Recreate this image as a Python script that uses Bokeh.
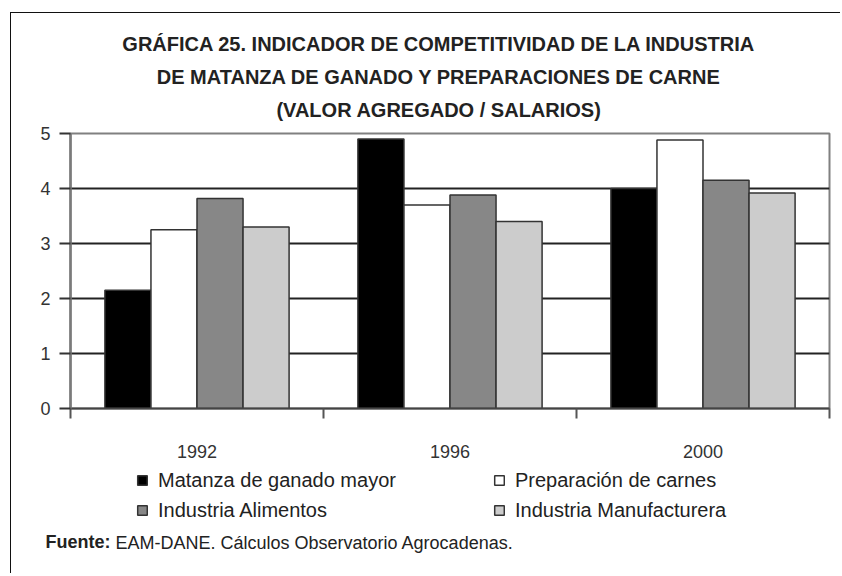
from bokeh.plotting import figure
from bokeh.layouts import column
from bokeh.models import (Range1d, FixedTicker, LinearAxis, Label, Legend, LegendItem, Grid)
from bokeh.embed import file_html
from bokeh.resources import INLINE

# ---- data ----
years = ["1992", "1996", "2000"]
series = ["Matanza de ganado mayor", "Preparación de carnes",
          "Industria Alimentos", "Industria Manufacturera"]
matanza = [2.15, 4.90, 4.00]
preparacion = [3.25, 3.70, 4.88]
alimentos = [3.82, 3.88, 4.15]
manufacturera = [3.30, 3.40, 3.92]
y_ticks = [0, 1, 2, 3, 4, 5]
title_lines = ["GRÁFICA 25. INDICADOR DE COMPETITIVIDAD DE LA INDUSTRIA",
               "DE MATANZA DE GANADO Y PREPARACIONES DE CARNE",
               "(VALOR AGREGADO / SALARIOS)"]
source_bold = "Fuente:"
source_text = "EAM-DANE. Cálculos Observatorio Agrocadenas."

# ---- style ----
colors = ["#000000", "#ffffff", "#878787", "#cccccc"]
FONT = "Liberation Sans"
TXT = "#222222"
OX, OY = 11, 13          # canvas origin on the page (margin + border)
FL = 70                  # page x of the (aligned) frames' left edge
W = 829
H0, H1, H2 = 110, 343, 107
values = [matanza, preparacion, alimentos, manufacturera]
centers = [i + 0.5 for i in range(len(years))]
bounds = [float(i) for i in range(len(years) + 1)]
bw = 0.182


def blank_fig(h, **kw):
    f = figure(width=W, height=h, output_backend="svg", toolbar_location=None,
               x_range=Range1d(0, len(years)), y_range=Range1d(0, 1),
               x_axis_type=None, y_axis_type=None, min_border=0, **kw)
    f.outline_line_color = None
    f.grid.visible = False
    f.background_fill_color = "white"
    f.border_fill_color = "white"
    return f


# ---------- title block ----------
p0 = blank_fig(H0)
for line, cy in zip(title_lines, [43, 76, 109]):
    p0.add_layout(Label(x=438.5 - FL, y=(OY + H0) - cy, x_units="screen", y_units="screen",
                        text=line, text_align="center", text_baseline="middle",
                        text_font=FONT, text_font_size="20px", text_font_style="bold",
                        text_color=TXT))

# ---------- main chart ----------
top0 = OY + H0
p = figure(width=W, height=H1, output_backend="svg", toolbar_location=None,
           x_range=Range1d(0, len(years)), y_range=Range1d(0, 5),
           x_axis_type=None, y_axis_type=None,
           min_border_left=FL - OX, min_border_right=W - (829 - OX),
           min_border_top=133 - top0, min_border_bottom=(top0 + H1) - 408)
p.outline_line_color = "#808080"
p.outline_line_width = 2
p.background_fill_color = "white"
p.border_fill_color = "white"

yaxis = LinearAxis(ticker=FixedTicker(ticks=y_ticks))
yaxis.axis_line_color = "#7a7a7a"
yaxis.axis_line_width = 2.5
yaxis.major_tick_line_color = "#333333"
yaxis.major_tick_line_width = 2
yaxis.major_tick_out = 11
yaxis.major_tick_in = 0
yaxis.minor_tick_line_color = None
yaxis.major_label_standoff = 9
yaxis.major_label_text_font = FONT
yaxis.major_label_text_font_size = "18px"
yaxis.major_label_text_color = "#333333"
p.add_layout(yaxis, "left")

grid = Grid(dimension=1, ticker=yaxis.ticker)
grid.grid_line_color = "#222222"
grid.grid_line_width = 2
p.add_layout(grid)

xaxis = LinearAxis(ticker=FixedTicker(ticks=centers, minor_ticks=bounds))
xaxis.major_label_overrides = {c: y for c, y in zip(centers, years)}
xaxis.major_tick_line_color = None
xaxis.major_tick_out = 0
xaxis.major_tick_in = 0
xaxis.minor_tick_out = 10
xaxis.minor_tick_in = 0
xaxis.minor_tick_line_color = "#555555"
xaxis.minor_tick_line_width = 2
xaxis.axis_line_color = "#444444"
xaxis.axis_line_width = 2
xaxis.major_label_standoff = 26
xaxis.major_label_text_font = FONT
xaxis.major_label_text_font_size = "18px"
xaxis.major_label_text_color = "#333333"
p.add_layout(xaxis, "below")

for j, (vals, col) in enumerate(zip(values, colors)):
    xs = [c + (j - 1.5) * bw for c in centers]
    p.vbar(x=xs, top=vals, width=bw, bottom=0, fill_color=col,
           line_color="#333333", line_width=1.5)

# ---------- legend + source block ----------
top1 = top0 + H1
MB2 = 44
p2 = blank_fig(H2, min_border_bottom=MB2)
fb2 = top1 + H2 - MB2        # page y of p2's frame bottom
keys = []
for j, (vals, col) in enumerate(zip(values, colors)):
    xs = [c + (j - 1.5) * bw for c in centers]
    keys.append(p2.vbar(x=xs, top=vals, width=bw, bottom=0, fill_color=col,
                        line_color="#333333", line_width=1.5, visible=False))

def make_legend(idx, px):
    leg = Legend(items=[LegendItem(label=series[i], renderers=[keys[i]]) for i in idx],
                 location=(px - FL, fb2 - 521.5))
    leg.padding = 0
    leg.margin = 0
    leg.spacing = 7
    leg.glyph_width = 12
    leg.glyph_height = 12
    leg.label_height = 20
    leg.label_standoff = 10
    leg.label_text_font = FONT
    leg.label_text_font_size = "20px"
    leg.label_text_color = TXT
    leg.border_line_color = None
    leg.background_fill_alpha = 0
    leg.inactive_fill_alpha = 0
    return leg

p2.add_layout(make_legend([0, 2], 136))
p2.add_layout(make_legend([1, 3], 493))

# source line: side-panel labels (not clipped to the frame); the second label's
# panel sits one text-line lower, so it is lifted by that amount
p2.add_layout(Label(x=45 - FL, y=8, x_units="screen", y_units="screen", text=source_bold,
                    text_align="left", text_baseline="middle", text_font=FONT,
                    text_font_size="18px", text_font_style="bold", text_color=TXT), "below")
p2.add_layout(Label(x=115 - FL, y=27, x_units="screen", y_units="screen", text=source_text,
                    text_align="left", text_baseline="middle", text_font=FONT,
                    text_font_size="18px", text_color=TXT), "below")

layout = column(p0, p, p2, spacing=0, margin=(12, 0, 0, 10),
                styles={"border-top": "1.5px solid #111111",
                        "border-left": "1.5px solid #111111"})

open("out.html", "w").write(file_html(layout, INLINE))
